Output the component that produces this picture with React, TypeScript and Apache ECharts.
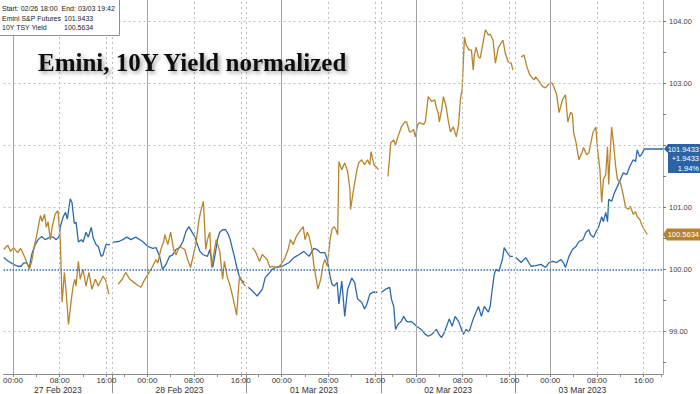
import React, { useEffect, useRef } from "react";
import * as echarts from "echarts";

type Pt = [number, number];

// ---- texts ----
const titleText = "Emini, 10Y Yield normalized";
const rangeText = "Start: 02/26 18:00  End: 03/03 19:42";
const seriesNames = ["Emini S&P Futures", "10Y TSY Yield"];
const lastValues = [101.9433, 100.5634];
const eminiChange = ["+1.9433", "1.94%"];

// ---- axes (x in trading hours since 02/26 18:00, 23h per session) ----
const sessionLength = 23;
const xRange = [4.38, 117.3];
const yRange = [98.31, 104.35];
const yLabelValues = [99, 100, 101, 103, 104]; // 102.00 is hidden behind the Emini end label
const yTickValues = [98.5, 99, 99.5, 100, 100.5, 101, 101.5, 102, 102.5, 103, 103.5, 104];
const gridValues = [99, 101, 102, 103, 104];
const baseline = 100;
const dayLabels = ["27 Feb 2023", "28 Feb 2023", "01 Mar 2023", "02 Mar 2023", "03 Mar 2023"];
const midnightHours = [6, 29, 52, 75, 98];
const eightHours = [14, 37, 60, 83, 106];
const sixteenHours = [22, 45, 68, 91, 114];
const sessionBreaks = [23, 46, 69, 92];
const fourHourTicks = [6, 10, 14, 18, 22, 25, 29, 33, 37, 41, 45, 48, 52, 56, 60, 64, 68, 71, 75, 79, 83, 87, 91, 94, 98, 102, 106, 110, 114, 117];

// ---- Emini S&P Futures (normalized, blue) ----
const eminiSessions: Pt[][] = [
  [[4.4,100.19],[5.2,100.13],[6.1,100.08],[6.8,100.05],[7.4,100.05],[7.8,100.10],[8.3,100.11],[8.8,100.03],[9.2,100.24],[9.8,100.40],[10.3,100.48],[10.9,100.53],[11.5,100.48],[12.4,100.52],[12.9,100.52],[13.4,100.48],[13.9,100.53],[14.1,100.69],[14.6,100.85],[15.0,100.92],[15.3,100.81],[15.8,101.14],[16.1,101.08],[16.5,100.74],[16.8,100.76],[17.2,100.44],[17.7,100.48],[18.0,100.44],[18.5,100.60],[18.9,100.52],[19.4,100.68],[19.7,100.52],[20.2,100.40],[20.6,100.37],[21.1,100.21],[21.4,100.23],[21.9,100.40],[22.6,100.40]],
  [[23.1,100.44],[24.1,100.45],[24.8,100.48],[25.5,100.52],[26.2,100.48],[27.0,100.52],[28.2,100.45],[29.1,100.37],[29.9,100.34],[30.5,100.35],[31.1,100.21],[31.6,100.00],[32.2,100.08],[32.8,100.21],[33.3,100.23],[33.9,100.32],[34.5,100.35],[35.1,100.45],[35.6,100.61],[36.1,100.69],[36.6,100.61],[37.1,100.53],[37.6,100.40],[38.0,100.29],[38.5,100.24],[39.3,100.21],[39.7,100.32],[40.2,100.03],[40.7,100.29],[41.0,100.48],[41.4,100.60],[41.9,100.64],[42.4,100.64],[42.9,100.56],[43.2,100.48],[43.6,100.32],[43.9,100.21],[44.4,100.00],[44.9,99.84],[45.6,99.79]],
  [[46.3,99.71],[47.0,99.65],[47.8,99.57],[48.3,99.63],[48.7,99.68],[49.2,99.87],[49.7,99.92],[50.4,100.00],[50.9,100.03],[52.1,100.05],[53.3,100.11],[54.1,100.19],[55.0,100.24],[55.8,100.29],[56.7,100.21],[57.5,100.34],[58.1,100.32],[58.6,100.27],[59.4,100.27],[59.8,100.16],[60.3,99.89],[60.6,99.76],[61.0,99.73],[61.5,99.79],[61.8,99.44],[62.3,99.81],[62.8,99.24],[63.3,99.68],[64.0,99.86],[64.5,99.79],[65.0,99.52],[65.7,99.47],[66.2,99.36],[66.6,99.44],[67.1,99.60],[67.6,99.63],[68.4,99.63]],
  [[69.1,99.63],[69.8,99.68],[70.5,99.71],[70.8,99.52],[71.2,99.40],[71.5,99.03],[71.9,99.11],[72.4,99.15],[72.9,99.24],[73.4,99.16],[73.7,99.15],[74.2,99.16],[75.1,99.08],[75.9,99.03],[76.6,98.95],[77.1,98.92],[77.7,98.95],[78.5,99.03],[79.0,98.94],[79.4,98.90],[79.9,98.99],[80.2,99.07],[80.7,99.20],[81.2,99.08],[81.7,99.24],[82.3,99.16],[82.8,99.03],[83.1,98.95],[83.6,99.03],[84.1,98.99],[84.8,99.20],[85.3,99.31],[85.7,99.40],[86.2,99.24],[86.7,99.40],[87.4,99.31],[87.7,99.40],[88.0,99.63],[88.4,99.92],[88.7,100.00],[89.2,99.97],[89.8,100.16],[90.1,100.35],[90.6,100.27],[91.1,100.21],[91.6,100.21]],
  [[92.1,100.19],[93.0,100.11],[93.8,100.19],[94.7,100.05],[95.5,100.06],[96.4,100.08],[97.2,100.03],[97.8,100.11],[98.4,100.13],[99.1,100.11],[99.8,100.16],[100.3,100.10],[100.6,100.03],[101.2,100.21],[101.8,100.32],[102.4,100.37],[102.9,100.45],[103.6,100.48],[104.1,100.60],[104.6,100.64],[104.9,100.56],[105.4,100.52],[105.8,100.60],[106.3,100.69],[106.8,100.85],[107.1,100.77],[107.5,100.92],[107.8,100.77],[108.0,101.13],[108.5,101.10],[109.0,101.24],[109.5,101.34],[110.0,101.45],[110.5,101.56],[111.1,101.53],[111.6,101.66],[112.2,101.77],[112.6,101.74],[112.9,101.93],[113.3,101.82],[113.6,101.85],[114.1,101.9433],[117.3,101.9433]],
];

// ---- 10Y TSY Yield (normalized, gold) ----
const yieldSessions: Pt[][] = [
  [[4.4,100.32],[5.1,100.39],[5.6,100.29],[6.1,100.35],[6.8,100.27],[7.3,100.34],[7.8,100.24],[8.3,100.13],[8.8,100.00],[9.2,100.13],[9.7,100.40],[10.0,100.52],[10.5,100.77],[10.7,100.87],[11.0,100.77],[11.4,100.89],[11.7,100.68],[12.0,100.77],[12.4,100.48],[12.7,100.68],[13.2,100.89],[13.7,100.95],[14.1,100.48],[14.4,99.47],[14.8,99.95],[15.1,99.63],[15.5,99.11],[16.0,99.52],[16.3,99.73],[16.6,99.84],[16.8,99.73],[17.2,100.13],[17.5,99.84],[18.0,100.00],[18.5,99.73],[19.0,99.95],[19.5,99.68],[20.1,99.84],[20.6,99.73],[21.4,99.89],[21.9,99.82],[22.4,99.60]],
  [[24.0,99.76],[24.7,99.84],[25.3,99.95],[26.0,99.84],[26.7,99.79],[27.4,99.74],[27.9,99.71],[28.4,99.81],[29.1,99.92],[29.8,100.03],[30.5,100.16],[30.8,100.10],[31.3,100.32],[31.8,100.44],[32.0,100.56],[32.5,100.40],[33.0,100.60],[33.5,100.32],[33.9,100.23],[34.5,100.37],[35.4,100.32],[35.9,100.16],[36.4,100.03],[36.9,100.24],[37.3,100.40],[37.8,100.77],[38.1,100.92],[38.6,101.10],[39.0,100.32],[39.3,100.48],[39.7,100.60],[40.0,100.03],[40.5,100.32],[40.8,100.48],[41.4,100.29],[41.9,99.84],[42.2,100.13],[42.7,99.87],[43.1,99.76],[43.6,99.57],[43.9,99.44],[44.3,99.26],[44.6,99.68],[44.8,99.89],[45.3,99.79],[45.8,99.73]],
  [[47.0,100.35],[47.5,100.29],[48.2,100.13],[48.7,100.24],[49.0,100.21],[49.5,100.16],[50.0,100.03],[50.4,100.05],[51.1,100.03],[51.6,100.05],[52.1,100.11],[52.6,100.19],[53.1,100.32],[53.5,100.48],[54.0,100.40],[54.5,100.53],[55.0,100.60],[55.7,100.69],[56.0,100.48],[56.4,100.60],[56.7,100.53],[57.2,100.32],[57.5,100.08],[58.2,99.68],[58.7,99.84],[59.1,100.08],[59.4,100.16],[59.8,100.05],[60.3,100.48],[60.6,100.64],[61.0,100.69],[61.3,100.64],[61.6,100.56],[61.8,101.74],[62.3,101.61],[62.8,101.72],[63.3,101.58],[63.7,101.29],[63.8,100.97],[64.4,101.34],[64.9,101.61],[65.2,101.72],[65.7,101.77],[66.2,101.69],[66.7,101.77],[67.1,101.69],[67.3,101.90],[67.8,101.69],[68.3,101.64],[68.6,101.61]],
  [[70.2,101.50],[70.7,102.05],[71.2,102.09],[71.5,102.01],[71.9,102.14],[72.5,102.30],[73.1,102.38],[73.4,102.38],[73.9,102.22],[74.2,102.22],[74.6,102.26],[74.9,102.14],[75.3,102.34],[75.6,102.37],[76.3,102.34],[76.6,102.38],[77.1,102.79],[77.7,102.71],[78.2,102.74],[78.5,102.61],[78.8,102.53],[79.0,102.38],[79.4,102.58],[79.7,102.79],[80.2,102.61],[80.5,102.42],[80.9,102.22],[81.4,102.30],[81.9,102.14],[82.3,102.34],[82.6,102.74],[82.9,102.90],[83.3,103.75],[83.6,103.62],[84.1,103.54],[84.5,103.54],[84.8,103.22],[85.0,103.46],[85.3,103.59],[85.7,103.43],[86.0,103.41],[86.5,103.67],[86.9,103.87],[87.4,103.78],[87.7,103.80],[88.2,103.70],[88.6,103.33],[89.1,103.58],[89.6,103.66],[89.9,103.70],[90.3,103.49],[90.8,103.35],[91.3,103.33],[91.6,103.22]],
  [[93.0,103.43],[93.5,103.46],[94.0,103.27],[94.5,103.14],[95.2,103.06],[95.5,103.11],[96.1,103.03],[96.7,102.95],[97.2,102.93],[97.8,103.00],[98.3,103.01],[98.6,102.95],[99.1,102.82],[99.5,102.53],[100.1,102.74],[100.6,102.82],[101.0,102.38],[101.5,102.54],[101.8,102.50],[102.0,102.21],[102.4,102.05],[102.7,101.88],[102.9,101.77],[103.4,101.88],[103.7,101.97],[104.2,101.85],[104.6,101.88],[105.3,102.21],[105.8,102.30],[106.1,101.93],[106.5,101.61],[106.8,101.08],[107.1,101.45],[107.5,101.53],[107.8,101.98],[108.0,101.37],[108.2,101.77],[108.5,102.30],[108.8,102.05],[109.2,101.66],[109.5,101.45],[110.0,101.40],[110.4,101.24],[110.9,101.00],[111.4,100.97],[111.7,101.02],[112.2,100.89],[112.6,100.93],[112.9,100.85],[113.3,100.81],[113.8,100.69],[114.1,100.64],[114.6,100.5634]],
];

const BLUE = "#2f69a8";
const GOLD = "#b7852d";
const FONT = "Liberation Sans";

function joinSessions(sessions: Pt[][]) {
  const out: any[] = [];
  sessions.forEach((s, i) => {
    if (i > 0) out.push([s[0][0] - 0.05, "-"]);
    s.forEach((p) => out.push(p));
  });
  return out;
}

function clockLabel(t: number) {
  const h = Math.round((18 + (t % sessionLength)) % 24);
  return String(h).padStart(2, "0") + ":00";
}

const dateCenters = dayLabels.map((_, i) => {
  const lo = Math.max(xRange[0], i * sessionLength);
  const hi = Math.min(xRange[1], (i + 1) * sessionLength);
  return (lo + hi) / 2;
});

export default function App() {
  const ref = useRef<HTMLDivElement>(null);
  useEffect(() => {
    if (!ref.current) return;
    const chart = echarts.init(ref.current, undefined, { renderer: "svg" });
    const dotted = (c: string) => ({ color: c, width: 1, type: [2, 3] as any });
    const option: any = {
      animation: false,
      backgroundColor: "#ffffff",
      grid: { left: 0, right: 37, top: 0, bottom: 19, containLabel: false },
      xAxis: [
        {
          type: "value",
          min: xRange[0],
          max: xRange[1],
          position: "bottom",
          splitLine: { show: false },
          axisLine: { show: true, lineStyle: { color: "#8c8c8c", width: 1 } },
          axisTick: { show: true, customValues: fourHourTicks, length: 3, lineStyle: { color: "#8c8c8c" } },
          axisLabel: {
            show: true,
            customValues: [...midnightHours, ...eightHours, ...sixteenHours],
            formatter: (v: number) => clockLabel(v),
            fontSize: 8,
            fontFamily: FONT,
            color: "#333",
            margin: 2,
          },
        },
        {
          type: "value",
          min: xRange[0],
          max: xRange[1],
          position: "bottom",
          splitLine: { show: false },
          axisLine: { show: false },
          axisTick: { show: true, customValues: sessionBreaks, length: 19, lineStyle: { color: "#8c8c8c" } },
          axisLabel: {
            show: true,
            customValues: dateCenters,
            formatter: (v: number) => dayLabels[Math.min(dayLabels.length - 1, Math.floor(v / sessionLength))],
            fontSize: 8.5,
            fontFamily: FONT,
            color: "#333",
            margin: 11,
          },
        },
      ],
      yAxis: {
        type: "value",
        position: "right",
        min: yRange[0],
        max: yRange[1],
        splitLine: { show: false },
        axisLine: { show: true, lineStyle: { color: "#c9a56a", width: 1 } },
        axisTick: { show: true, customValues: yTickValues, length: 3, lineStyle: { color: "#777" } },
        axisLabel: {
          show: true,
          customValues: yLabelValues,
          formatter: (v: number) => v.toFixed(2),
          fontSize: 7.5,
          fontFamily: FONT,
          color: "#444",
          margin: 6,
        },
      },
      series: [
        {
          type: "line",
          data: [],
          silent: true,
          z: 1,
          markLine: {
            silent: true,
            symbol: ["none", "none"],
            label: { show: false },
            animation: false,
            data: [
              ...midnightHours.map((t) => ({ xAxis: t, lineStyle: { color: "#a3a3a3", width: 1, type: "solid" } })),
              ...eightHours.map((t) => ({ xAxis: t, lineStyle: dotted("#bdbdbd") })),
              ...sixteenHours.map((t) => ({ xAxis: t, lineStyle: dotted("#bdbdbd") })),
              ...sessionBreaks.map((t) => ({ xAxis: t, lineStyle: dotted("#bdbdbd") })),
              ...gridValues.map((v) => ({ yAxis: v, lineStyle: dotted("#bdbdbd") })),
              { yAxis: baseline, lineStyle: { color: BLUE, width: 1.5, type: [1.5, 1.5] } },
            ],
          },
        },
        {
          name: seriesNames[0],
          type: "line",
          data: joinSessions(eminiSessions),
          showSymbol: false,
          symbol: "none",
          z: 3,
          lineStyle: { color: BLUE, width: 1.3 },
        },
        {
          name: seriesNames[1],
          type: "line",
          data: joinSessions(yieldSessions),
          showSymbol: false,
          symbol: "none",
          z: 4,
          lineStyle: { color: GOLD, width: 1.3 },
        },
      ],
    };
    chart.setOption(option);

    const yB = chart.convertToPixel({ yAxisIndex: 0 }, lastValues[0]) as number;
    const yG = chart.convertToPixel({ yAxisIndex: 0 }, lastValues[1]) as number;
    const right = 700;
    const lx = 664;
    const textStyle = (t: string, x: number, y: number, color: string, size: number, align = "left") => ({
      type: "text",
      x,
      y,
      z: 20,
      style: { text: t, fill: color, font: `${size}px "${FONT}"`, align, verticalAlign: "middle" },
    });

    chart.setOption({
      graphic: [
        // legend box
        {
          type: "rect",
          z: 10,
          shape: { x: -20, y: -20, width: 139.5, height: 55.5 },
          style: { fill: "#ffffff", stroke: "#8f8f8f", lineWidth: 1 },
        },
        textStyle(rangeText, 2, 8.5, "#222", 7),
        textStyle(seriesNames[0], 2, 18.5, "#222", 7),
        textStyle(lastValues[0].toFixed(4), 64, 18.5, "#222", 7),
        textStyle(seriesNames[1], 2, 27.5, "#222", 7),
        textStyle(lastValues[1].toFixed(4), 64, 27.5, "#222", 7),
        // title
        {
          type: "text",
          x: 38,
          y: 62,
          z: 20,
          style: {
            text: titleText,
            fill: "#111",
            font: 'bold 25px "Liberation Serif"',
            align: "left",
            verticalAlign: "middle",
            textShadowColor: "rgba(0,0,0,0.4)",
            textShadowBlur: 4,
            textShadowOffsetX: 2,
            textShadowOffsetY: 2,
          },
        },
        // end labels
        {
          type: "polygon",
          z: 15,
          shape: {
            points: [
              [lx, yB],
              [lx + 4, yB - 5],
              [right, yB - 5],
              [right, yB + 24],
              [lx + 4, yB + 24],
              [lx + 4, yB + 4],
            ],
          },
          style: { fill: "#2b64a4" },
        },
        textStyle(lastValues[0].toFixed(4), 699, yB, "#fff", 7.5, "right"),
        textStyle(eminiChange[0], 699, yB + 9.5, "#fff", 7.5, "right"),
        textStyle(eminiChange[1], 699, yB + 19, "#fff", 7.5, "right"),
        {
          type: "polygon",
          z: 15,
          shape: {
            points: [
              [lx - 1, yG],
              [lx + 3, yG - 6],
              [right, yG - 6],
              [right, yG + 6],
              [lx + 3, yG + 6],
            ],
          },
          style: { fill: "#b5832f" },
        },
        textStyle(lastValues[1].toFixed(4), 699, yG, "#fff", 7.5, "right"),
      ],
    });

    return () => chart.dispose();
  }, []);

  return (
    <div
      ref={ref}
      style={{ position: "fixed", left: 0, top: 0, width: 700, height: 394, background: "#fff" }}
    />
  );
}
